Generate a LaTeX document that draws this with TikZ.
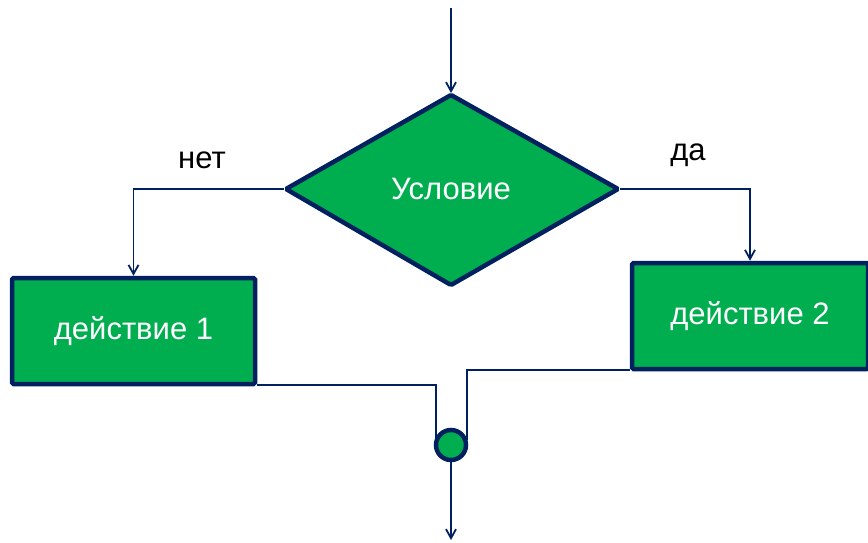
\documentclass[tikz,border=0pt]{standalone}
\usepackage{fontspec}
\setmainfont{Liberation Sans}
\usetikzlibrary{shapes.geometric,arrows.meta}
\definecolor{fgreen}{HTML}{00AE50}
\definecolor{navy}{HTML}{002060}
\tikzset{
  blk/.style={draw=navy,line width=4.5pt,fill=fgreen,rounded corners=1.5pt,text=white,font=\fontsize{31}{34}\selectfont,inner sep=0pt},
  conn/.style={draw=navy,line width=1.8pt},
  arr/.style={conn,-{Straight Barb[length=9pt,width=10pt,line width=1.8pt]}},
  lbl/.style={font=\fontsize{31}{34}\selectfont,text=black}
}
\begin{document}
\begin{tikzpicture}[x=1pt,y=-1pt]
\useasboundingbox (0,0) rectangle (868,543);
% diamond
\path[blk] (451,95) -- (618,189) -- (451,285) -- (286,189) -- cycle;
\node[text=white,font=\fontsize{31}{34}\selectfont] (cond) at (451,189) {Условие};
\coordinate (dtop) at (451,93);
\coordinate (dleft) at (284,189);
\coordinate (dright) at (620,189);
% boxes
\node[blk,minimum width=243pt,minimum height=106pt] (a1) at (133.5,331) {действие 1};
\node[blk,minimum width=236pt,minimum height=106pt] (a2) at (750,316) {действие 2};
% junction
\node[draw=navy,line width=4.5pt,fill=fgreen,circle,minimum size=30pt,inner sep=0pt] (j) at (451,445) {};
\coordinate (start) at (451,8);
\coordinate (end) at (451,540);
% connectors
\draw[arr] (start) -- (dtop);
\draw[arr] (dleft) -| (a1.north);
\draw[arr] (dright) -| (a2.north);
\draw[conn] (a1.south east) ++(0,-1) -| (436,440);
\draw[conn] (a2.south west) ++(0,-1) -| (467,440);
\draw[arr] (j.south) -- (end);
\node[lbl] (no) at (202,160) {нет};
\node[lbl] (yes) at (688,155) {да};
\end{tikzpicture}
\end{document}
